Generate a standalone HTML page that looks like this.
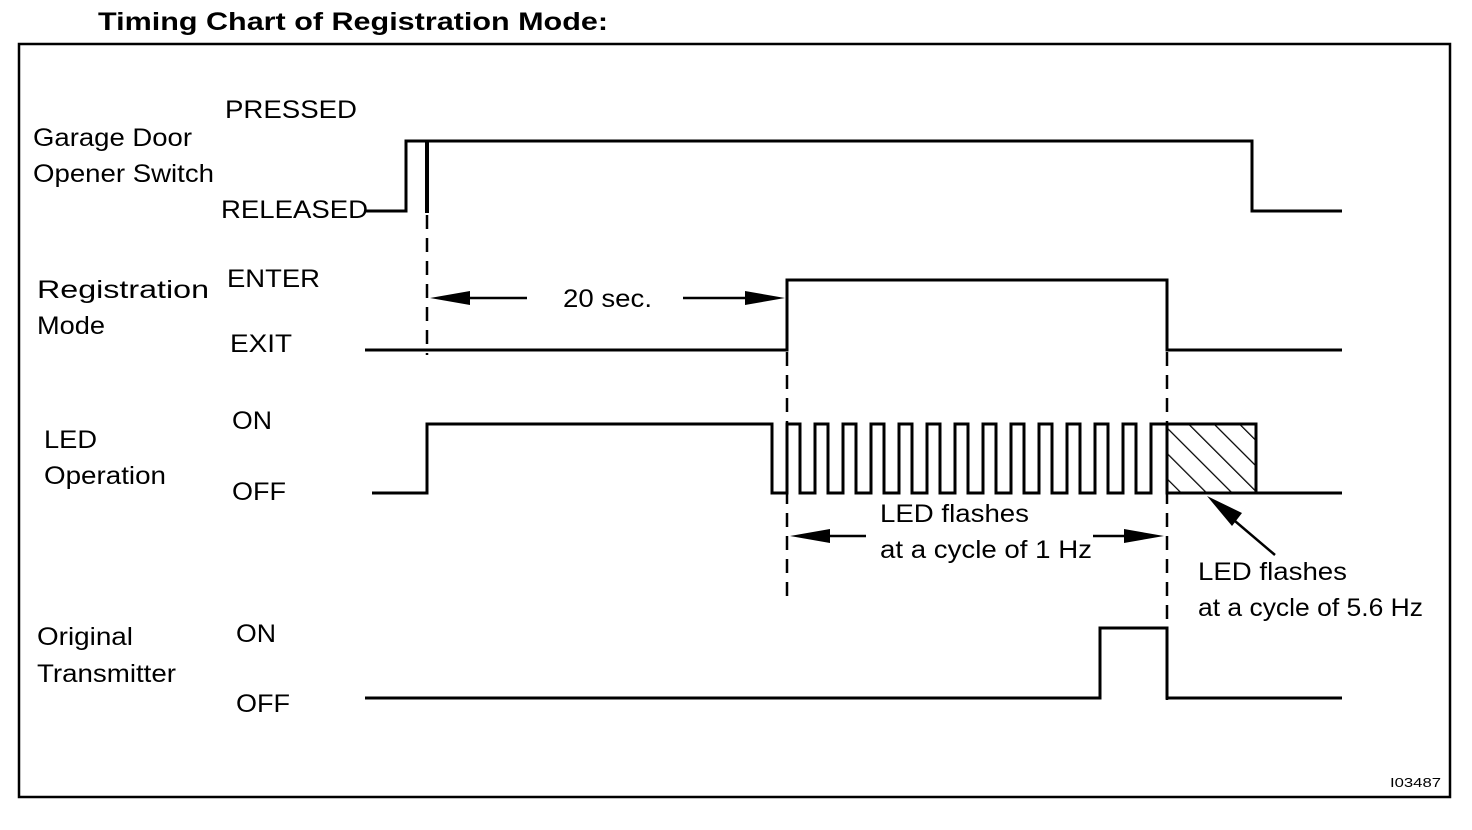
<!DOCTYPE html>
<html><head><meta charset="utf-8"><style>
html,body{margin:0;padding:0;background:#fff;}
svg{display:block;}
text{font-family:"Liberation Sans",Arial,sans-serif;fill:#000;}
</style></head><body>
<svg width="1472" height="830" viewBox="0 0 1472 830" xmlns="http://www.w3.org/2000/svg">
<defs>
<pattern id="h" patternUnits="userSpaceOnUse" width="18" height="18" patternTransform="rotate(-45)">
<line x1="0" y1="0" x2="0" y2="18" stroke="#000" stroke-width="2.5"/>
</pattern>
</defs>
<text x="98" y="30" font-size="25" font-weight="bold" textLength="510" lengthAdjust="spacingAndGlyphs">Timing Chart of Registration Mode:</text>
<rect x="19" y="44" width="1431" height="753" fill="none" stroke="#000" stroke-width="2.5"/>
<g font-size="25" lengthAdjust="spacingAndGlyphs">
<text x="225" y="118" textLength="132" lengthAdjust="spacingAndGlyphs">PRESSED</text>
<text x="33" y="146" textLength="159" lengthAdjust="spacingAndGlyphs">Garage Door</text>
<text x="33" y="182" textLength="181" lengthAdjust="spacingAndGlyphs">Opener Switch</text>
<text x="221" y="218" textLength="147" lengthAdjust="spacingAndGlyphs">RELEASED</text>
<text x="227" y="287" textLength="93" lengthAdjust="spacingAndGlyphs">ENTER</text>
<text x="37" y="298" textLength="172" lengthAdjust="spacingAndGlyphs">Registration</text>
<text x="37" y="334" textLength="68" lengthAdjust="spacingAndGlyphs">Mode</text>
<text x="230" y="352" textLength="62" lengthAdjust="spacingAndGlyphs">EXIT</text>
<text x="232" y="429" textLength="40" lengthAdjust="spacingAndGlyphs">ON</text>
<text x="44" y="448" textLength="53" lengthAdjust="spacingAndGlyphs">LED</text>
<text x="44" y="484" textLength="122" lengthAdjust="spacingAndGlyphs">Operation</text>
<text x="232" y="500" textLength="54" lengthAdjust="spacingAndGlyphs">OFF</text>
<text x="37" y="645" textLength="96" lengthAdjust="spacingAndGlyphs">Original</text>
<text x="37" y="682" textLength="139" lengthAdjust="spacingAndGlyphs">Transmitter</text>
<text x="236" y="642" textLength="40" lengthAdjust="spacingAndGlyphs">ON</text>
<text x="236" y="712" textLength="54" lengthAdjust="spacingAndGlyphs">OFF</text>
<text x="563" y="307" textLength="89" lengthAdjust="spacingAndGlyphs">20 sec.</text>
<text x="880" y="522" textLength="149" lengthAdjust="spacingAndGlyphs">LED flashes</text>
<text x="880" y="558" textLength="212" lengthAdjust="spacingAndGlyphs">at a cycle of 1 Hz</text>
<text x="1198" y="580" textLength="149" lengthAdjust="spacingAndGlyphs">LED flashes</text>
<text x="1198" y="616" textLength="225" lengthAdjust="spacingAndGlyphs">at a cycle of 5.6 Hz</text>
</g>
<text x="1390" y="787" font-size="13" textLength="51" lengthAdjust="spacingAndGlyphs">I03487</text>
<g fill="none" stroke="#000" stroke-width="3">
<polyline points="365,211 406,211 406,141 1252,141 1252,211 1342,211"/>
<line x1="427" y1="141" x2="427" y2="213" stroke-width="4"/>
<polyline points="365,350 787,350 787,280 1167,280 1167,350 1342,350"/>
<polyline points="372,493 427,493 427,424 772,424 772,493 787,493
787,424 800,424 800,493 815,493 815,424 828,424 828,493 843,493
843,424 856,424 856,493 871,493 871,424 884,424 884,493 899,493
899,424 912,424 912,493 927,493 927,424 940,424 940,493 955,493
955,424 968,424 968,493 983,493 983,424 996,424 996,493 1011,493
1011,424 1024,424 1024,493 1039,493 1039,424 1052,424 1052,493 1067,493
1067,424 1080,424 1080,493 1095,493 1095,424 1108,424 1108,493 1123,493
1123,424 1136,424 1136,493 1151,493 1151,424 1167,424"/>
<rect x="1167" y="424" width="89" height="69" fill="url(#h)"/>
<line x1="1256" y1="493" x2="1342" y2="493"/>
<polyline points="365,698 1100,698 1100,628 1167,628 1167,698 1342,698"/>
</g>
<g stroke="#000" stroke-width="2.5" stroke-dasharray="14,9" fill="none">
<line x1="427" y1="215" x2="427" y2="355"/>
<line x1="787" y1="283" x2="787" y2="597"/>
<line x1="1167" y1="283" x2="1167" y2="700"/>
</g>
<g stroke="#000" stroke-width="2.5">
<line x1="445" y1="298" x2="527" y2="298"/>
<line x1="683" y1="298" x2="765" y2="298"/>
<line x1="808" y1="536" x2="866" y2="536"/>
<line x1="1093" y1="536" x2="1145" y2="536"/>
<line x1="1222" y1="510" x2="1275" y2="555"/>
</g>
<g fill="#000">
<polygon points="430,298 470,291 470,305"/>
<polygon points="785,298 745,291 745,305"/>
<polygon points="790,536 830,529 830,543"/>
<polygon points="1164,536 1124,529 1124,543"/>
<polygon points="1207,496 1242,513 1232,526"/>
</g>
</svg>
</body></html>
